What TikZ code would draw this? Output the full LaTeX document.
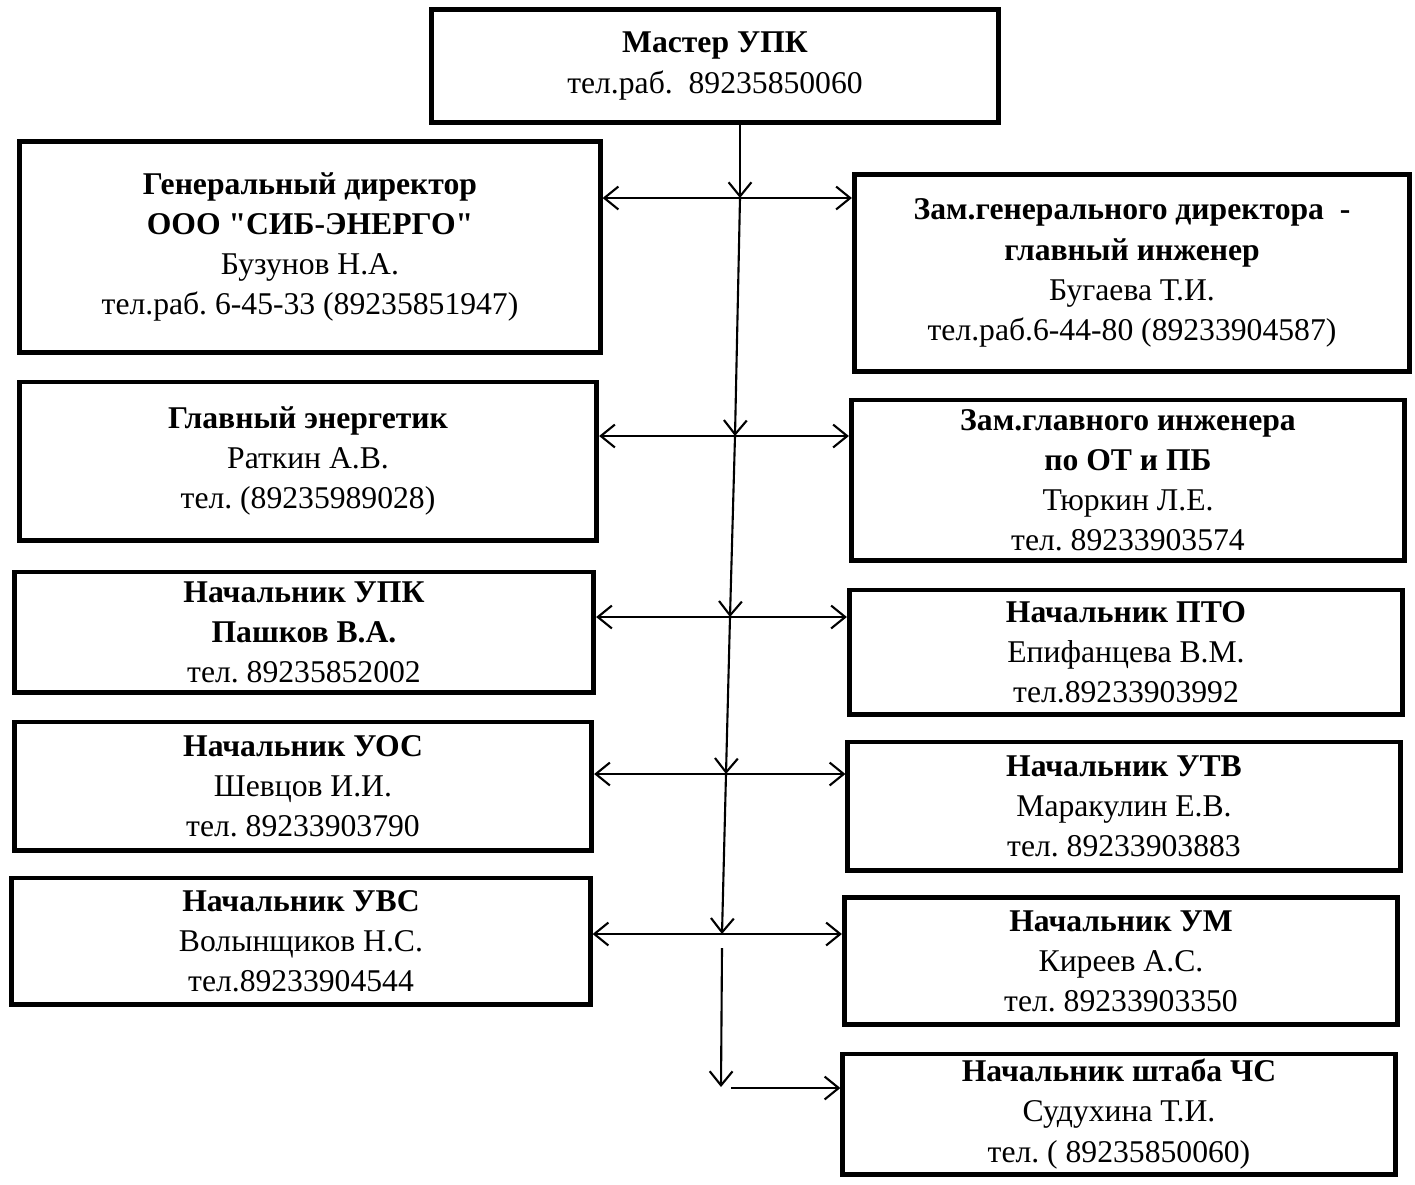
\documentclass[tikz,border=0pt]{standalone}
\usepackage{fontspec}
\setmainfont{Liberation Serif}
\usepackage{tikz}
\usetikzlibrary{arrows.meta,positioning,calc}
\frenchspacing
\newcommand{\strq}{\XeTeXglyph\XeTeXcharglyph34\relax}
\tikzstyle{arrow} = [line width=0.6pt,-{Straight Barb[length=4pt,width=6.5pt]}]
\tikzstyle{twoway} = [line width=0.6pt,{Straight Barb[length=4pt,width=6.5pt]}-{Straight Barb[length=4pt,width=6.5pt]}]
\tikzstyle{postbox} = [rectangle, draw=black, line width=1.4pt, inner sep=0pt, align=center, font=\fontsize{9}{11.4}\selectfont]

\begin{document}
\begin{tikzpicture}[x=0.01cm, y=-0.01cm]
\useasboundingbox (0,0) rectangle (1415,1184);
% Head
\node[postbox, minimum width=5.66cm, minimum height=1.13cm] (master) at (715,66) {\textbf{Мастер УПК}\\тел.раб.\ \ 89235850060};

% Left column
\node[postbox, minimum width=5.8cm, minimum height=2.1cm] (gendir) at (310,247) {\textbf{Генеральный директор}\\\textbf{ООО \strq СИБ-ЭНЕРГО\strq}\\Бузунов Н.А.\\тел.раб. 6-45-33 (89235851947)};
\node[postbox, minimum width=5.77cm, minimum height=1.58cm] (energ) at (308,461) {\textbf{Главный энергетик}\\Раткин А.В.\\тел. (89235989028)};
\node[postbox, minimum width=5.79cm, minimum height=1.2cm] (upk) at (304,632) {\textbf{Начальник УПК}\\\textbf{Пашков В.А.}\\тел. 89235852002};
\node[postbox, minimum width=5.77cm, minimum height=1.28cm] (uos) at (303,786) {\textbf{Начальник УОС}\\Шевцов И.И.\\тел. 89233903790};
\node[postbox, minimum width=5.78cm, minimum height=1.26cm] (uvs) at (301,941) {\textbf{Начальник УВС}\\Волынщиков Н.С.\\тел.89233904544};

% Right column
\node[postbox, minimum width=5.55cm, minimum height=1.97cm] (zamgen) at (1132,273) {\textbf{Зам.генерального директора\ \ -}\\\textbf{главный инженер}\\Бугаева Т.И.\\тел.раб.6-44-80 (89233904587)};
\node[postbox, minimum width=5.53cm, minimum height=1.6cm] (zamgl) at (1128,480) {\textbf{Зам.главного инженера}\\\textbf{по ОТ и ПБ}\\Тюркин Л.Е.\\тел. 89233903574};
\node[postbox, minimum width=5.53cm, minimum height=1.24cm] (pto) at (1126,652) {\textbf{Начальник ПТО}\\Епифанцева В.М.\\тел.89233903992};
\node[postbox, minimum width=5.52cm, minimum height=1.28cm] (utv) at (1124,806) {\textbf{Начальник УТВ}\\Маракулин Е.В.\\тел. 89233903883};
\node[postbox, minimum width=5.53cm, minimum height=1.27cm] (um) at (1121,961) {\textbf{Начальник УМ}\\Киреев А.С.\\тел. 89233903350};
\node[postbox, minimum width=5.52cm, minimum height=1.2cm] (chs) at (1119,1114) {\textbf{Начальник штаба ЧС}\\Судухина Т.И.\\тел. ( 89235850060)};

% Spine junctions
\coordinate (j1) at (740,198);
\coordinate (j2) at (735,436);
\coordinate (j3) at (730,617);
\coordinate (j4) at (726,774);
\coordinate (j5) at (722,934);
\coordinate (s6) at (722,948);
\coordinate (j6) at (721,1087);
\coordinate (h6) at (731,1088);

% Spine
\draw[arrow] (master.south -| j1) -- (j1);
\draw[arrow] (j1) -- (j2);
\draw[arrow] (j2) -- (j3);
\draw[arrow] (j3) -- (j4);
\draw[arrow] (j4) -- (j5);
\draw[arrow] (s6) -- (j6);

% Branches
\draw[twoway] (j1 -| gendir.east) -- (j1 -| zamgen.west);
\draw[twoway] (j2 -| energ.east) -- (j2 -| zamgl.west);
\draw[twoway] (j3 -| upk.east) -- (j3 -| pto.west);
\draw[twoway] (j4 -| uos.east) -- (j4 -| utv.west);
\draw[twoway] (j5 -| uvs.east) -- (j5 -| um.west);
\draw[arrow] (h6) -- (h6 -| chs.west);
\end{tikzpicture}
\end{document}
